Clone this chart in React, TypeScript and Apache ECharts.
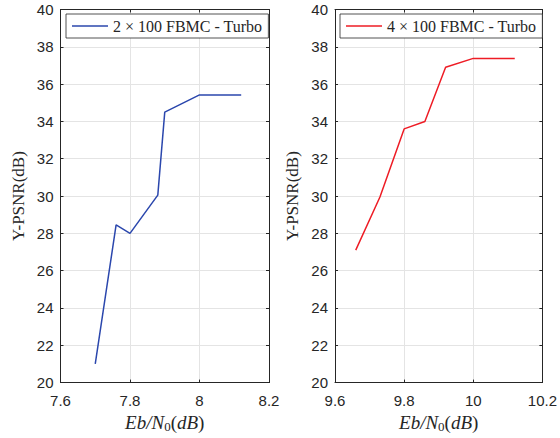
import React, { useEffect, useRef } from "react";
import * as echarts from "echarts";

const xLeft = [7.7, 7.76, 7.8, 7.88, 7.9, 8.0, 8.12];
const yLeft = [21.0, 28.45, 28.0, 30.05, 34.5, 35.42, 35.42];
const xRight = [9.66, 9.73, 9.8, 9.86, 9.92, 10.0, 10.12];
const yRight = [27.1, 29.95, 33.6, 34.0, 36.9, 37.38, 37.38];
const leftName = "2 × 100 FBMC - Turbo";
const rightName = "4 × 100 FBMC - Turbo";
const yLabel = "Y-PSNR(dB)";

const AXC = "#262626";
const GRIDC = "#e4e4e4";
const SANS = "'Liberation Sans', Arial, sans-serif";
const SERIF = "'Liberation Serif', 'Times New Roman', serif";

export default function App() {
  const ref = useRef<HTMLDivElement>(null);
  useEffect(() => {
    if (!ref.current) return;
    const chart = echarts.init(ref.current, undefined, { renderer: "svg" });
    const fmt = (v: number) => String(+v.toFixed(1));
    const xName = "{i|Eb/N}{s|0}{p|(}{i|dB}{p|)}";
    const nameRich = {
      i: { fontFamily: SERIF, fontStyle: "italic", fontSize: 19, color: AXC, lineHeight: 22 },
      p: { fontFamily: SERIF, fontSize: 19, color: AXC, lineHeight: 22 },
      s: { fontFamily: SERIF, fontSize: 13, color: AXC, lineHeight: 12, verticalAlign: "bottom" },
    };
    const bottomX = (gi: number, min: number) => ({
      type: "value",
      gridIndex: gi,
      min,
      max: +(min + 0.6).toFixed(1),
      interval: 0.2,
      position: "bottom",
      name: xName,
      nameLocation: "middle",
      nameGap: 25,
      nameTextStyle: { rich: nameRich },
      axisLine: { show: true, lineStyle: { color: AXC, width: 1 } },
      axisTick: { show: true, inside: true, length: 3, lineStyle: { color: AXC } },
      axisLabel: { formatter: fmt, color: AXC, fontFamily: SANS, fontSize: 15, margin: 10 },
      splitLine: { show: true, lineStyle: { color: GRIDC, width: 1 } },
    });
    const topX = (gi: number, min: number) => ({
      type: "value",
      gridIndex: gi,
      min,
      max: +(min + 0.6).toFixed(1),
      interval: 0.2,
      position: "top",
      axisLine: { show: true, onZero: false, lineStyle: { color: AXC, width: 1 } },
      axisTick: { show: true, inside: true, length: 3, lineStyle: { color: AXC } },
      axisLabel: { show: false },
      splitLine: { show: false },
    });
    const leftY = (gi: number) => ({
      type: "value",
      gridIndex: gi,
      min: 20,
      max: 40,
      interval: 2,
      position: "left",
      name: yLabel,
      nameLocation: "middle",
      nameGap: 34,
      nameRotate: 90,
      nameTextStyle: { fontFamily: SERIF, fontSize: 17, color: AXC },
      axisLine: { show: true, onZero: false, lineStyle: { color: AXC, width: 1 } },
      axisTick: { show: true, inside: true, length: 3, lineStyle: { color: AXC } },
      axisLabel: { color: AXC, fontFamily: SANS, fontSize: 15, margin: 7 },
      splitLine: { show: true, lineStyle: { color: GRIDC, width: 1 } },
    });
    const rightY = (gi: number) => ({
      type: "value",
      gridIndex: gi,
      min: 20,
      max: 40,
      interval: 2,
      position: "right",
      axisLine: { show: true, onZero: false, lineStyle: { color: AXC, width: 1 } },
      axisTick: { show: true, inside: true, length: 3, lineStyle: { color: AXC } },
      axisLabel: { show: false },
      splitLine: { show: false },
    });
    const legend = (name: string, left: number) => ({
      data: [name],
      left,
      top: 14,
      orient: "horizontal",
      backgroundColor: "#ffffff",
      borderColor: AXC,
      borderWidth: 0.8,
      borderRadius: 0,
      padding: [4, 6, 4, 6],
      itemWidth: 36,
      itemHeight: 14,
      itemGap: 0,
      icon: "path://M0,0 L36,0 L36,1.5 L0,1.5 Z",
      textStyle: { fontFamily: SERIF, fontSize: 16, color: AXC, width: 144 },
    });
    chart.setOption({
      animation: false,
      backgroundColor: "#ffffff",
      grid: [
        { left: 60.5, right: 291, top: 9.5, bottom: 49, containLabel: false },
        { left: 335, right: 16, top: 9.5, bottom: 49, containLabel: false },
      ],
      legend: [legend(leftName, 66), legend(rightName, 340)],
      xAxis: [bottomX(0, 7.6), topX(0, 7.6), bottomX(1, 9.6), topX(1, 9.6)],
      yAxis: [leftY(0), rightY(0), leftY(1), rightY(1)],
      series: [
        {
          name: leftName,
          type: "line",
          xAxisIndex: 0,
          yAxisIndex: 0,
          data: xLeft.map((x, i) => [x, yLeft[i]]),
          showSymbol: false,
          symbol: "none",
          lineStyle: { color: "#2b47ad", width: 1.5 },
          itemStyle: { color: "#2b47ad" },
        },
        {
          name: rightName,
          type: "line",
          xAxisIndex: 2,
          yAxisIndex: 2,
          data: xRight.map((x, i) => [x, yRight[i]]),
          showSymbol: false,
          symbol: "none",
          lineStyle: { color: "#ee1c25", width: 1.5 },
          itemStyle: { color: "#ee1c25" },
        },
      ],
    });
    return () => chart.dispose();
  }, []);
  return (
    <div
      ref={ref}
      style={{ position: "absolute", left: 0, top: 0, width: 560, height: 438 }}
    />
  );
}
